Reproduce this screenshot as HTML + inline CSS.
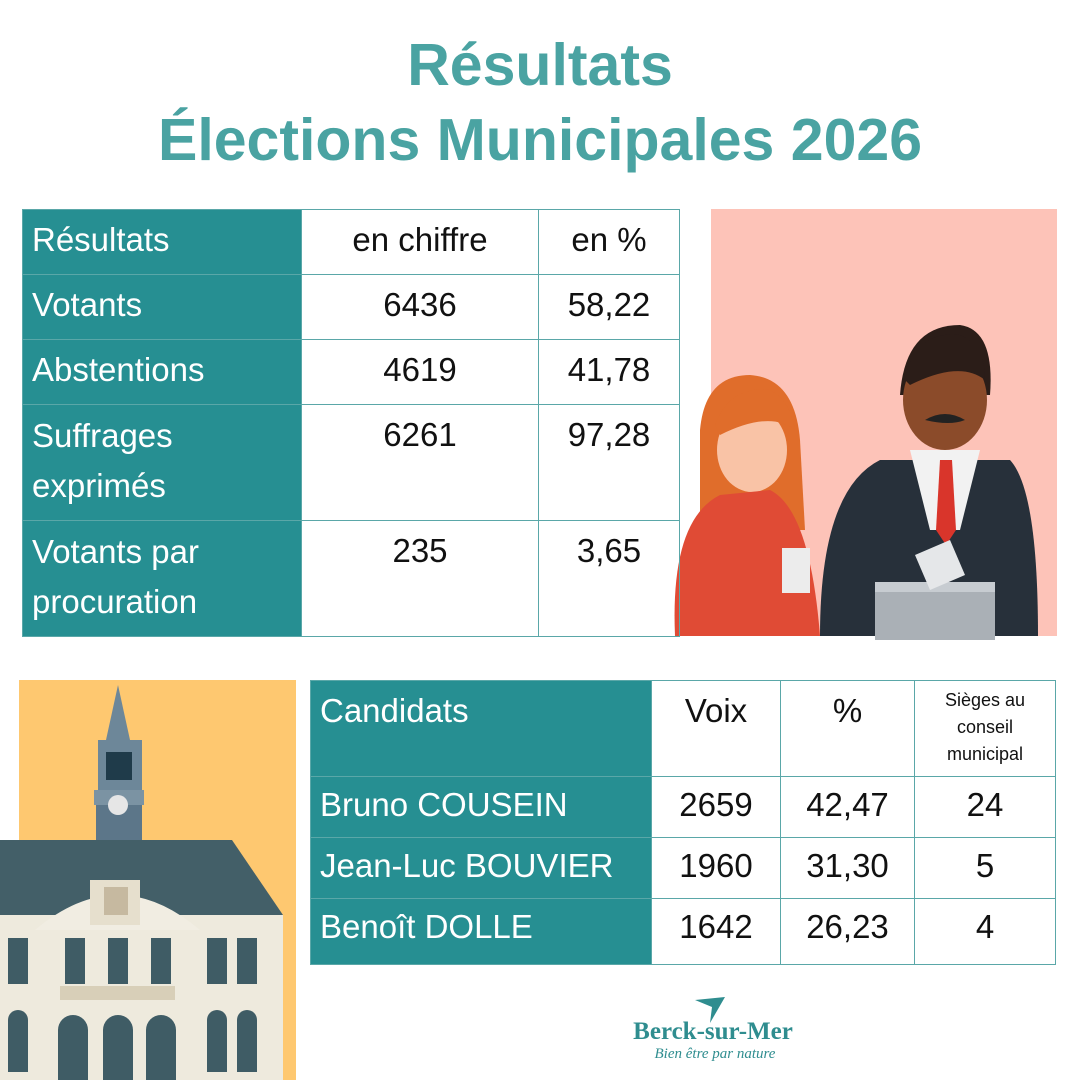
<!DOCTYPE html>
<html><head><meta charset="utf-8"><style>
body{margin:0;width:1080px;height:1080px;background:#fff;position:relative;overflow:hidden;font-family:"Liberation Sans",sans-serif;}
.t{position:absolute;left:0;width:1080px;text-align:center;color:#4aa3a2;font-weight:bold;font-size:59px;}
.c{position:absolute;box-sizing:border-box;border:1px solid #5aa7a8;font-size:33px;color:#111;}
.h{background:#268f92;color:#fff;padding-left:9px;line-height:44px;padding-top:8px;}
.n{text-align:center;padding-top:12px;line-height:44px;}
</style></head><body>
<div class="t" style="top:31px;">Résultats</div>
<div class="t" style="top:106px;">Élections Municipales 2026</div>

<!-- pink panel -->
<div style="position:absolute;left:711px;top:209px;width:346px;height:427px;background:#fdc3b8"></div>
<svg style="position:absolute;left:660px;top:300px" width="400" height="340">
 <path d="M40 130 Q45 75 90 75 Q135 78 140 140 L145 230 L40 230 Z" fill="#e06d2b"/>
 <ellipse cx="92" cy="150" rx="35" ry="42" fill="#f9c3a6"/>
 <path d="M55 125 Q70 85 110 90 Q130 100 135 130 Q110 110 60 135Z" fill="#e06d2b"/>
 <path d="M15 336 Q10 220 60 195 L110 190 Q150 210 160 336Z" fill="#e04b35"/>
 <rect x="122" y="248" width="28" height="45" fill="#ececec"/>
 <path d="M240 95 Q245 25 300 25 Q335 30 330 95Z" fill="#2b1d18"/>
 <ellipse cx="285" cy="100" rx="42" ry="50" fill="#8b4b2a"/>
 <path d="M245 80 Q255 30 300 35 Q325 45 325 80 Q300 60 250 85Z" fill="#2b1d18"/>
 <path d="M265 120 Q285 108 305 120 Q290 126 265 120Z" fill="#222"/>
 <path d="M160 336 Q160 190 220 160 L350 160 Q378 190 378 336Z" fill="#27303a"/>
 <path d="M250 150 L320 150 L300 230 L270 230Z" fill="#f2f2f2"/>
 <path d="M280 160 L292 160 L296 230 L286 245 L276 230Z" fill="#d9352b"/>
 <rect x="215" y="290" width="120" height="50" fill="#aab0b6"/>
 <rect x="215" y="282" width="120" height="10" fill="#c7ccd1"/>
 <path d="M255 255 L290 240 L305 275 L270 290Z" fill="#e5e7e9"/>
</svg>

<!-- table 1 -->
<div class="c h" style="left:22px;top:209px;width:280px;height:66px">Résultats</div>
<div class="c n" style="left:301px;top:209px;width:238px;height:66px;padding-top:8px">en chiffre</div>
<div class="c n" style="left:538px;top:209px;width:142px;height:66px;padding-top:8px">en %</div>
<div class="c h" style="left:22px;top:274px;width:280px;height:66px">Votants</div>
<div class="c n" style="left:301px;top:274px;width:238px;height:66px;padding-top:8px">6436</div>
<div class="c n" style="left:538px;top:274px;width:142px;height:66px;padding-top:8px">58,22</div>
<div class="c h" style="left:22px;top:339px;width:280px;height:66px">Abstentions</div>
<div class="c n" style="left:301px;top:339px;width:238px;height:66px;padding-top:8px">4619</div>
<div class="c n" style="left:538px;top:339px;width:142px;height:66px;padding-top:8px">41,78</div>
<div class="c h" style="left:22px;top:404px;width:280px;height:117px;line-height:50px;padding-top:6px">Suffrages<br>exprimés</div>
<div class="c n" style="left:301px;top:404px;width:238px;height:117px;padding-top:8px">6261</div>
<div class="c n" style="left:538px;top:404px;width:142px;height:117px;padding-top:8px">97,28</div>
<div class="c h" style="left:22px;top:520px;width:280px;height:117px;line-height:50px;padding-top:6px">Votants par<br>procuration</div>
<div class="c n" style="left:301px;top:520px;width:238px;height:117px;padding-top:8px">235</div>
<div class="c n" style="left:538px;top:520px;width:142px;height:117px;padding-top:8px">3,65</div>

<!-- yellow panel + building -->
<div style="position:absolute;left:19px;top:680px;width:277px;height:400px;background:#fec870"></div>
<svg style="position:absolute;left:0;top:680px" width="300" height="400">
 <path d="M118 5 L130 60 L106 60Z" fill="#6d8799"/>
 <rect x="98" y="60" width="44" height="55" fill="#6d8799"/>
 <rect x="106" y="72" width="26" height="28" fill="#1f3b4a"/>
 <rect x="94" y="110" width="50" height="15" fill="#7b93a3"/>
 <rect x="96" y="125" width="46" height="40" fill="#5c7689"/>
 <circle cx="118" cy="125" r="10" fill="#e6e6e6"/>
 <path d="M96 165 L142 165 L135 240 L103 240Z" fill="#5c7689"/>
 <path d="M0 160 L232 160 L283 235 L0 235Z" fill="#435f68"/>
 <rect x="0" y="235" width="283" height="165" fill="#eeeadd"/>
 <path d="M35 250 Q118 180 200 250Z" fill="#f1ede2"/>
 <rect x="90" y="200" width="50" height="45" fill="#e6dfcd"/>
 <rect x="104" y="207" width="24" height="28" fill="#c6b9a0"/>
 <g fill="#3f5c65">
  <rect x="8" y="258" width="20" height="46"/><rect x="65" y="258" width="20" height="46"/><rect x="108" y="258" width="20" height="46"/><rect x="151" y="258" width="20" height="46"/><rect x="207" y="258" width="20" height="46"/><rect x="237" y="258" width="20" height="46"/>
  <path d="M8 340 a10 10 0 0 1 20 0 V392 H8Z"/><path d="M207 340 a10 10 0 0 1 20 0 V392 H207Z"/><path d="M237 340 a10 10 0 0 1 20 0 V392 H237Z"/>
  <path d="M58 350 a15 15 0 0 1 30 0 V400 H58Z"/><path d="M103 350 a15 15 0 0 1 30 0 V400 H103Z"/><path d="M146 350 a15 15 0 0 1 30 0 V400 H146Z"/>
 </g>
 <rect x="60" y="306" width="115" height="14" fill="#d8cfb8"/>
</svg>

<!-- table 2 -->
<div class="c h" style="left:310px;top:680px;width:342px;height:97px">Candidats</div>
<div class="c n" style="left:651px;top:680px;width:130px;height:97px;padding-top:8px">Voix</div>
<div class="c n" style="left:780px;top:680px;width:135px;height:97px;padding-top:8px">%</div>
<div class="c n" style="left:914px;top:680px;width:142px;height:97px;font-size:18px;line-height:27px;padding-top:6px">Sièges au<br>conseil<br>municipal</div>
<div class="c h" style="left:310px;top:776px;width:342px;height:62px;padding-top:6px">Bruno COUSEIN</div>
<div class="c n" style="left:651px;top:776px;width:130px;height:62px;padding-top:6px">2659</div>
<div class="c n" style="left:780px;top:776px;width:135px;height:62px;padding-top:6px">42,47</div>
<div class="c n" style="left:914px;top:776px;width:142px;height:62px;padding-top:6px">24</div>
<div class="c h" style="left:310px;top:837px;width:342px;height:62px;padding-top:6px">Jean-Luc BOUVIER</div>
<div class="c n" style="left:651px;top:837px;width:130px;height:62px;padding-top:6px">1960</div>
<div class="c n" style="left:780px;top:837px;width:135px;height:62px;padding-top:6px">31,30</div>
<div class="c n" style="left:914px;top:837px;width:142px;height:62px;padding-top:6px">5</div>
<div class="c h" style="left:310px;top:898px;width:342px;height:67px;padding-top:6px">Benoît DOLLE</div>
<div class="c n" style="left:651px;top:898px;width:130px;height:67px;padding-top:6px">1642</div>
<div class="c n" style="left:780px;top:898px;width:135px;height:67px;padding-top:6px">26,23</div>
<div class="c n" style="left:914px;top:898px;width:142px;height:67px;padding-top:6px">4</div>

<!-- logo -->
<svg style="position:absolute;left:690px;top:995px" width="40" height="30"><path d="M5 5 L35 2 L20 28 L22 12Z" fill="#2f8d8f"/></svg>
<div style="position:absolute;left:618px;top:1018px;width:190px;text-align:center;font-family:'Liberation Serif',serif;font-weight:bold;font-size:25px;color:#2f8d8f">Berck-sur-Mer</div>
<div style="position:absolute;left:640px;top:1046px;width:150px;text-align:center;font-family:'Liberation Serif',serif;font-style:italic;font-size:15px;color:#2f8d8f">Bien être par nature</div>
</body></html>
